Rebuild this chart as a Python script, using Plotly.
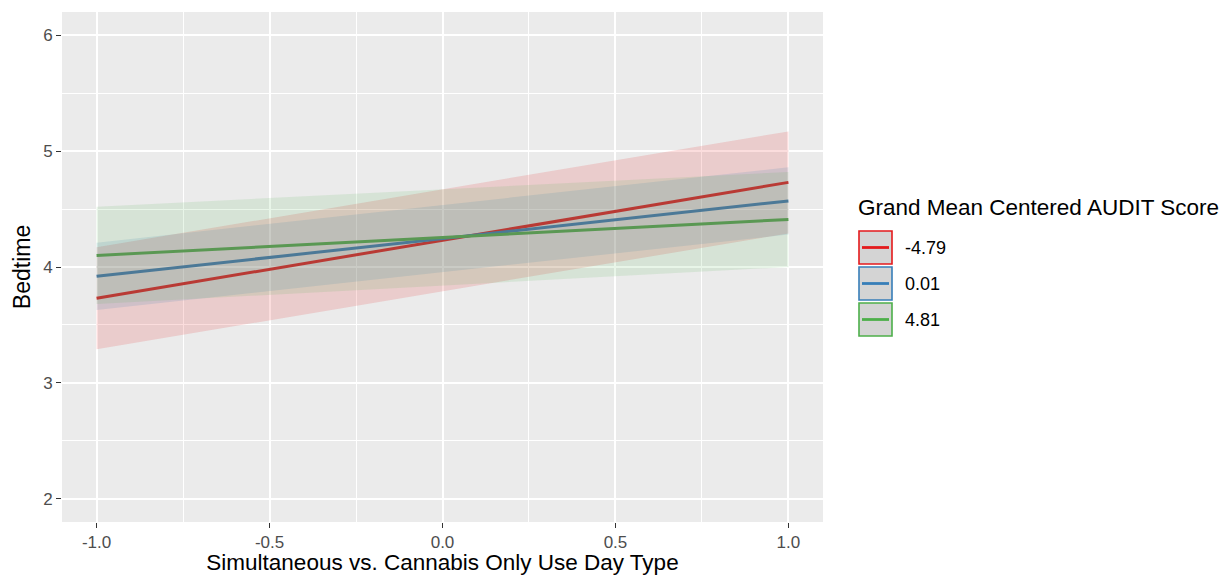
import plotly.graph_objects as go

# ---- data ----
x_vals = [-1.0, 1.0]
groups = ["-4.79", "0.01", "4.81"]
fit_red = [3.73, 4.73]
lo_red = [3.29, 4.29]
hi_red = [4.17, 5.17]
fit_blue = [3.92, 4.57]
lo_blue = [3.63, 4.28]
hi_blue = [4.21, 4.86]
fit_green = [4.10, 4.41]
lo_green = [3.68, 4.00]
hi_green = [4.52, 4.82]
x_ticks = [-1.0, -0.5, 0.0, 0.5, 1.0]
x_ticklabels = ["-1.0", "-0.5", "0.0", "0.5", "1.0"]
y_ticks = [2, 3, 4, 5, 6]
y_ticklabels = ["2", "3", "4", "5", "6"]

line_colors = ["#E41A1C", "#377EB8", "#4DAF4A"]
fill_colors = ["rgba(228,26,28,0.15)", "rgba(55,126,184,0.15)", "rgba(77,175,74,0.13)"]
fits = [fit_red, fit_blue, fit_green]
los = [lo_red, lo_blue, lo_green]
his = [hi_red, hi_blue, hi_green]

fig = go.Figure()
for g, f, c in zip(groups, fits, line_colors):
    fig.add_trace(go.Scatter(x=x_vals, y=f, mode="lines", name=g,
                             line=dict(color=c, width=3), showlegend=False))
for g, lo, hi, fc in zip(groups, los, his, fill_colors):
    fig.add_trace(go.Scatter(x=x_vals + x_vals[::-1], y=hi + lo[::-1], mode="lines",
                             fill="toself", fillcolor=fc, line=dict(width=0),
                             hoverinfo="skip", showlegend=False))

W, H = 1228, 575
L, R, T, B = 62, 405, 12, 53
pw, ph = W - L - R, H - T - B

def px(xp):
    return (xp - L) / pw

def py(yp):
    return (H - B - yp) / ph

# custom legend (ggplot style)
shapes = []
annotations = []
annotations.append(dict(x=px(856), y=py(208), xref="paper", yref="paper", xanchor="left",
                        yanchor="middle", showarrow=False, text="Grand Mean Centered AUDIT Score",
                        font=dict(family="Liberation Sans", size=22.5, color="#000000")))
key_tops = [231, 267, 303]
for g, c, kt in zip(groups, line_colors, key_tops):
    shapes.append(dict(type="rect", xref="paper", yref="paper", x0=px(859), x1=px(892),
                       y0=py(kt), y1=py(kt + 33), fillcolor="#D4D4D4",
                       line=dict(color=c, width=1.6)))
    shapes.append(dict(type="line", xref="paper", yref="paper", x0=px(862), x1=px(889),
                       y0=py(kt + 16.5), y1=py(kt + 16.5), line=dict(color=c, width=2.8)))
    annotations.append(dict(x=px(903), y=py(kt + 16.5), xref="paper", yref="paper",
                            xanchor="left", yanchor="middle", showarrow=False, text=g,
                            font=dict(family="Liberation Sans", size=18, color="#000000")))

fig.update_layout(
    width=W, height=H,
    margin=dict(l=L, r=R, t=T, b=B, pad=0),
    paper_bgcolor="white", plot_bgcolor="#EBEBEB",
    font=dict(family="Liberation Sans"),
    shapes=shapes, annotations=annotations,
    showlegend=False,
    xaxis=dict(range=[-1.1, 1.1], tickvals=x_ticks, ticktext=x_ticklabels,
               showgrid=True, gridcolor="white", gridwidth=2, zeroline=False,
               ticks="outside", ticklen=5, tickcolor="#333333", tickwidth=1.2,
               tickfont=dict(size=17, color="#4D4D4D"), automargin=False,
               minor=dict(dtick=0.5, tick0=-0.75, showgrid=True, gridcolor="white", gridwidth=0.8),
               title=dict(text="Simultaneous vs. Cannabis Only Use Day Type",
                          font=dict(size=22.5, color="#000000"), standoff=12),
               showline=False),
    yaxis=dict(range=[1.8, 6.2], tickvals=y_ticks, ticktext=y_ticklabels,
               showgrid=True, gridcolor="white", gridwidth=2, zeroline=False,
               ticks="outside", ticklen=5, tickcolor="#333333", tickwidth=1.2,
               tickfont=dict(size=17, color="#4D4D4D"), automargin=False,
               minor=dict(dtick=1, tick0=2.5, showgrid=True, gridcolor="white", gridwidth=0.8),
               title=dict(text="Bedtime", font=dict(size=23, color="#000000"), standoff=6),
               showline=False),
)

fig.write_html("out.html", config={"displayModeBar": False},
               post_script="document.body.style.margin='0';document.body.style.overflow='hidden';")
